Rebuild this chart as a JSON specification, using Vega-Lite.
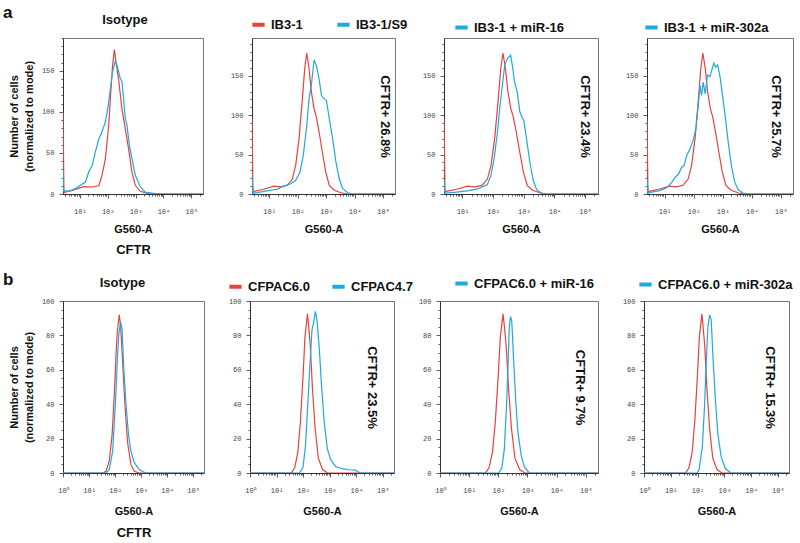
{
"$schema": "https://vega.github.io/schema/vega-lite/v6.json",
"padding": {"left": 3, "top": 3, "right": 5, "bottom": 5},
"background": "white",
"config": {
  "font": "Liberation Sans",
  "view": {"stroke": "#777", "strokeWidth": 1},
  "axis": {"grid": false, "labelFont": "Liberation Mono", "labelFontSize": 7, "labelColor": "#444", "domainColor": "#333", "tickColor": "#333", "tickWidth": 0.8, "titleFont": "Liberation Sans", "titleFontSize": 11, "titleFontWeight": "bold", "titleColor": "#111", "labelOverlap": false, "labelBound": false, "labelFlush": false},
  "title": {"font": "Liberation Sans", "fontSize": 13, "fontWeight": "bold", "color": "#111"},
  "legend": {"orient": "none", "direction": "horizontal", "title": null, "symbolType": "stroke", "symbolStrokeWidth": 4, "symbolSize": 150, "labelFont": "Liberation Sans", "labelFontSize": 13, "labelFontWeight": "bold", "labelColor": "#111", "columnPadding": 24, "padding": 0, "labelLimit": 300}
},
"datasets": {
"h": [
{"s":"Isotype IB3-1","x":2.5,"y":100},{"s":"Isotype IB3-1","x":2.7,"y":2},{"s":"Isotype IB3-1","x":5.3,"y":4.5},{"s":"Isotype IB3-1","x":14,"y":9},{"s":"Isotype IB3-1","x":28,"y":8.5},{"s":"Isotype IB3-1","x":48,"y":10},{"s":"Isotype IB3-1","x":63,"y":23},{"s":"Isotype IB3-1","x":83,"y":43},{"s":"Isotype IB3-1","x":109,"y":84},{"s":"Isotype IB3-1","x":125,"y":116},{"s":"Isotype IB3-1","x":150,"y":157},{"s":"Isotype IB3-1","x":174,"y":176},{"s":"Isotype IB3-1","x":198,"y":161},{"s":"Isotype IB3-1","x":246,"y":140},{"s":"Isotype IB3-1","x":324,"y":104},{"s":"Isotype IB3-1","x":427,"y":80},{"s":"Isotype IB3-1","x":562,"y":55},{"s":"Isotype IB3-1","x":741,"y":27},{"s":"Isotype IB3-1","x":977,"y":10.6},{"s":"Isotype IB3-1","x":1480,"y":3.3},{"s":"Isotype IB3-1","x":2880,"y":0.4},{"s":"Isotype IB3-1","x":5000,"y":0},{"s":"Isotype IB3-1","x":262144,"y":0},
{"s":"Isotype IB3-1/S9","x":2.5,"y":30},{"s":"Isotype IB3-1/S9","x":2.65,"y":4},{"s":"Isotype IB3-1/S9","x":4.1,"y":3.3},{"s":"Isotype IB3-1/S9","x":7,"y":6.5},{"s":"Isotype IB3-1/S9","x":10.5,"y":10.6},{"s":"Isotype IB3-1/S9","x":16,"y":14.6},{"s":"Isotype IB3-1/S9","x":21,"y":27},{"s":"Isotype IB3-1/S9","x":28,"y":35},{"s":"Isotype IB3-1/S9","x":36,"y":51},{"s":"Isotype IB3-1/S9","x":48,"y":67},{"s":"Isotype IB3-1/S9","x":63,"y":76},{"s":"Isotype IB3-1/S9","x":83,"y":88},{"s":"Isotype IB3-1/S9","x":103,"y":106},{"s":"Isotype IB3-1/S9","x":125,"y":128},{"s":"Isotype IB3-1/S9","x":150,"y":149},{"s":"Isotype IB3-1/S9","x":188,"y":162},{"s":"Isotype IB3-1/S9","x":215,"y":157},{"s":"Isotype IB3-1/S9","x":282,"y":141},{"s":"Isotype IB3-1/S9","x":324,"y":137},{"s":"Isotype IB3-1/S9","x":372,"y":116},{"s":"Isotype IB3-1/S9","x":427,"y":92},{"s":"Isotype IB3-1/S9","x":490,"y":84},{"s":"Isotype IB3-1/S9","x":603,"y":59},{"s":"Isotype IB3-1/S9","x":741,"y":43},{"s":"Isotype IB3-1/S9","x":977,"y":23},{"s":"Isotype IB3-1/S9","x":1480,"y":8.5},{"s":"Isotype IB3-1/S9","x":2190,"y":2.4},{"s":"Isotype IB3-1/S9","x":5000,"y":0.5},{"s":"Isotype IB3-1/S9","x":10000,"y":0},{"s":"Isotype IB3-1/S9","x":262144,"y":0},
{"s":"IB3-1","x":2.5,"y":95},{"s":"IB3-1","x":2.7,"y":2},{"s":"IB3-1","x":2.9,"y":3.4},{"s":"IB3-1","x":6.5,"y":6},{"s":"IB3-1","x":14.7,"y":10},{"s":"IB3-1","x":25,"y":9},{"s":"IB3-1","x":43,"y":11},{"s":"IB3-1","x":65,"y":19},{"s":"IB3-1","x":85,"y":36},{"s":"IB3-1","x":112,"y":70},{"s":"IB3-1","x":147,"y":121},{"s":"IB3-1","x":177,"y":159},{"s":"IB3-1","x":209,"y":179},{"s":"IB3-1","x":252,"y":159},{"s":"IB3-1","x":303,"y":130},{"s":"IB3-1","x":378,"y":108},{"s":"IB3-1","x":455,"y":98},{"s":"IB3-1","x":566,"y":79},{"s":"IB3-1","x":740,"y":53},{"s":"IB3-1","x":970,"y":28},{"s":"IB3-1","x":1290,"y":11},{"s":"IB3-1","x":1940,"y":4.7},{"s":"IB3-1","x":3330,"y":1.6},{"s":"IB3-1","x":5500,"y":0},{"s":"IB3-1","x":262144,"y":0},
{"s":"IB3-1/S9","x":2.5,"y":25},{"s":"IB3-1/S9","x":2.7,"y":1},{"s":"IB3-1/S9","x":8.5,"y":4},{"s":"IB3-1/S9","x":19,"y":6},{"s":"IB3-1/S9","x":33,"y":10},{"s":"IB3-1/S9","x":57,"y":13},{"s":"IB3-1/S9","x":85,"y":17},{"s":"IB3-1/S9","x":121,"y":28},{"s":"IB3-1/S9","x":158,"y":49},{"s":"IB3-1/S9","x":209,"y":87},{"s":"IB3-1/S9","x":252,"y":121},{"s":"IB3-1/S9","x":303,"y":138},{"s":"IB3-1/S9","x":378,"y":170},{"s":"IB3-1/S9","x":455,"y":163},{"s":"IB3-1/S9","x":566,"y":146},{"s":"IB3-1/S9","x":690,"y":125},{"s":"IB3-1/S9","x":850,"y":121},{"s":"IB3-1/S9","x":1020,"y":119},{"s":"IB3-1/S9","x":1290,"y":96},{"s":"IB3-1/S9","x":1700,"y":70},{"s":"IB3-1/S9","x":2200,"y":41},{"s":"IB3-1/S9","x":2900,"y":19},{"s":"IB3-1/S9","x":3800,"y":7},{"s":"IB3-1/S9","x":5700,"y":1.6},{"s":"IB3-1/S9","x":9000,"y":0},{"s":"IB3-1/S9","x":262144,"y":0},
{"s":"IB3-1 + miR-16","x":2.5,"y":18},{"s":"IB3-1 + miR-16","x":2.7,"y":1},{"s":"IB3-1 + miR-16","x":5.4,"y":2},{"s":"IB3-1 + miR-16","x":14.5,"y":4},{"s":"IB3-1 + miR-16","x":31,"y":6.4},{"s":"IB3-1 + miR-16","x":50,"y":10},{"s":"IB3-1 + miR-16","x":65,"y":12},{"s":"IB3-1 + miR-16","x":84,"y":23},{"s":"IB3-1 + miR-16","x":107,"y":44},{"s":"IB3-1 + miR-16","x":138,"y":78},{"s":"IB3-1 + miR-16","x":167,"y":112},{"s":"IB3-1 + miR-16","x":200,"y":138},{"s":"IB3-1 + miR-16","x":239,"y":164},{"s":"IB3-1 + miR-16","x":290,"y":172},{"s":"IB3-1 + miR-16","x":372,"y":176},{"s":"IB3-1 + miR-16","x":420,"y":164},{"s":"IB3-1 + miR-16","x":500,"y":142},{"s":"IB3-1 + miR-16","x":614,"y":129},{"s":"IB3-1 + miR-16","x":746,"y":104},{"s":"IB3-1 + miR-16","x":890,"y":97},{"s":"IB3-1 + miR-16","x":1000,"y":93},{"s":"IB3-1 + miR-16","x":1230,"y":70},{"s":"IB3-1 + miR-16","x":1580,"y":40},{"s":"IB3-1 + miR-16","x":2010,"y":18},{"s":"IB3-1 + miR-16","x":2620,"y":5.5},{"s":"IB3-1 + miR-16","x":3990,"y":0.4},{"s":"IB3-1 + miR-16","x":6000,"y":0},{"s":"IB3-1 + miR-16","x":262144,"y":0},
{"s":"IB3-1 + miR-302a","x":2.5,"y":20},{"s":"IB3-1 + miR-302a","x":2.7,"y":1},{"s":"IB3-1 + miR-302a","x":3.2,"y":2},{"s":"IB3-1 + miR-302a","x":6.3,"y":4},{"s":"IB3-1 + miR-302a","x":12,"y":8},{"s":"IB3-1 + miR-302a","x":18,"y":15},{"s":"IB3-1 + miR-302a","x":23,"y":21},{"s":"IB3-1 + miR-302a","x":30,"y":25},{"s":"IB3-1 + miR-302a","x":39,"y":34},{"s":"IB3-1 + miR-302a","x":47,"y":36},{"s":"IB3-1 + miR-302a","x":58,"y":49},{"s":"IB3-1 + miR-302a","x":75,"y":57},{"s":"IB3-1 + miR-302a","x":97,"y":68},{"s":"IB3-1 + miR-302a","x":120,"y":83},{"s":"IB3-1 + miR-302a","x":145,"y":113},{"s":"IB3-1 + miR-302a","x":166,"y":138},{"s":"IB3-1 + miR-302a","x":188,"y":125},{"s":"IB3-1 + miR-302a","x":214,"y":142},{"s":"IB3-1 + miR-302a","x":250,"y":127},{"s":"IB3-1 + miR-302a","x":300,"y":151},{"s":"IB3-1 + miR-302a","x":363,"y":149},{"s":"IB3-1 + miR-302a","x":435,"y":159},{"s":"IB3-1 + miR-302a","x":497,"y":166},{"s":"IB3-1 + miR-302a","x":580,"y":161},{"s":"IB3-1 + miR-302a","x":675,"y":164},{"s":"IB3-1 + miR-302a","x":826,"y":147},{"s":"IB3-1 + miR-302a","x":1020,"y":121},{"s":"IB3-1 + miR-302a","x":1250,"y":96},{"s":"IB3-1 + miR-302a","x":1550,"y":66},{"s":"IB3-1 + miR-302a","x":1990,"y":36},{"s":"IB3-1 + miR-302a","x":2590,"y":15},{"s":"IB3-1 + miR-302a","x":3370,"y":5.6},{"s":"IB3-1 + miR-302a","x":5000,"y":1.3},{"s":"IB3-1 + miR-302a","x":8000,"y":0},{"s":"IB3-1 + miR-302a","x":262144,"y":0},
{"s":"Isotype CFPAC6.0","x":1,"y":0},{"s":"Isotype CFPAC6.0","x":34,"y":0},{"s":"Isotype CFPAC6.0","x":45,"y":1},{"s":"Isotype CFPAC6.0","x":60,"y":7},{"s":"Isotype CFPAC6.0","x":77,"y":22},{"s":"Isotype CFPAC6.0","x":94,"y":46},{"s":"Isotype CFPAC6.0","x":109,"y":69},{"s":"Isotype CFPAC6.0","x":122,"y":82},{"s":"Isotype CFPAC6.0","x":145,"y":92},{"s":"Isotype CFPAC6.0","x":163,"y":86},{"s":"Isotype CFPAC6.0","x":195,"y":65},{"s":"Isotype CFPAC6.0","x":240,"y":40},{"s":"Isotype CFPAC6.0","x":302,"y":18},{"s":"Isotype CFPAC6.0","x":407,"y":5},{"s":"Isotype CFPAC6.0","x":550,"y":1},{"s":"Isotype CFPAC6.0","x":850,"y":0},{"s":"Isotype CFPAC6.0","x":262144,"y":0},
{"s":"Isotype CFPAC4.7","x":1,"y":0},{"s":"Isotype CFPAC4.7","x":45,"y":0},{"s":"Isotype CFPAC4.7","x":60,"y":2},{"s":"Isotype CFPAC4.7","x":81,"y":12.6},{"s":"Isotype CFPAC4.7","x":103,"y":40},{"s":"Isotype CFPAC4.7","x":122,"y":65},{"s":"Isotype CFPAC4.7","x":138,"y":80},{"s":"Isotype CFPAC4.7","x":163,"y":88},{"s":"Isotype CFPAC4.7","x":185,"y":84},{"s":"Isotype CFPAC4.7","x":220,"y":59},{"s":"Isotype CFPAC4.7","x":263,"y":40},{"s":"Isotype CFPAC4.7","x":330,"y":22},{"s":"Isotype CFPAC4.7","x":407,"y":12.6},{"s":"Isotype CFPAC4.7","x":550,"y":6},{"s":"Isotype CFPAC4.7","x":850,"y":2},{"s":"Isotype CFPAC4.7","x":1500,"y":0},{"s":"Isotype CFPAC4.7","x":262144,"y":0},
{"s":"CFPAC6.0","x":1,"y":0},{"s":"CFPAC6.0","x":36,"y":0},{"s":"CFPAC6.0","x":48,"y":3},{"s":"CFPAC6.0","x":63,"y":12},{"s":"CFPAC6.0","x":79,"y":30},{"s":"CFPAC6.0","x":98,"y":55},{"s":"CFPAC6.0","x":117,"y":79},{"s":"CFPAC6.0","x":145,"y":92.5},{"s":"CFPAC6.0","x":162,"y":85},{"s":"CFPAC6.0","x":186,"y":74},{"s":"CFPAC6.0","x":224,"y":49},{"s":"CFPAC6.0","x":282,"y":26},{"s":"CFPAC6.0","x":372,"y":8.6},{"s":"CFPAC6.0","x":537,"y":2},{"s":"CFPAC6.0","x":813,"y":0},{"s":"CFPAC6.0","x":262144,"y":0},
{"s":"CFPAC4.7","x":1,"y":0},{"s":"CFPAC4.7","x":72,"y":0},{"s":"CFPAC4.7","x":98,"y":3},{"s":"CFPAC4.7","x":123,"y":16},{"s":"CFPAC4.7","x":148,"y":39},{"s":"CFPAC4.7","x":182,"y":64},{"s":"CFPAC4.7","x":214,"y":83},{"s":"CFPAC4.7","x":245,"y":87},{"s":"CFPAC4.7","x":288,"y":94},{"s":"CFPAC4.7","x":331,"y":89},{"s":"CFPAC4.7","x":407,"y":72},{"s":"CFPAC4.7","x":490,"y":51},{"s":"CFPAC4.7","x":617,"y":30},{"s":"CFPAC4.7","x":813,"y":14},{"s":"CFPAC4.7","x":1096,"y":7.6},{"s":"CFPAC4.7","x":1660,"y":3.8},{"s":"CFPAC4.7","x":2950,"y":2.5},{"s":"CFPAC4.7","x":5250,"y":1.9},{"s":"CFPAC4.7","x":9120,"y":1.7},{"s":"CFPAC4.7","x":14100,"y":0},{"s":"CFPAC4.7","x":262144,"y":0},
{"s":"CFPAC6.0 + miR-16","x":1,"y":0},{"s":"CFPAC6.0 + miR-16","x":100,"y":0},{"s":"CFPAC6.0 + miR-16","x":131,"y":2.5},{"s":"CFPAC6.0 + miR-16","x":161,"y":14},{"s":"CFPAC6.0 + miR-16","x":192,"y":40},{"s":"CFPAC6.0 + miR-16","x":218,"y":65},{"s":"CFPAC6.0 + miR-16","x":236,"y":84},{"s":"CFPAC6.0 + miR-16","x":262,"y":91},{"s":"CFPAC6.0 + miR-16","x":290,"y":88},{"s":"CFPAC6.0 + miR-16","x":337,"y":65},{"s":"CFPAC6.0 + miR-16","x":395,"y":42},{"s":"CFPAC6.0 + miR-16","x":475,"y":23},{"s":"CFPAC6.0 + miR-16","x":614,"y":10},{"s":"CFPAC6.0 + miR-16","x":790,"y":3.4},{"s":"CFPAC6.0 + miR-16","x":1150,"y":0},{"s":"CFPAC6.0 + miR-16","x":262144,"y":0},
{"s":"CFPAC6.0 + miR-302a","x":1,"y":0},{"s":"CFPAC6.0 + miR-302a","x":95,"y":0},{"s":"CFPAC6.0 + miR-302a","x":113,"y":1.6},{"s":"CFPAC6.0 + miR-302a","x":151,"y":15},{"s":"CFPAC6.0 + miR-302a","x":183,"y":39},{"s":"CFPAC6.0 + miR-302a","x":212,"y":65},{"s":"CFPAC6.0 + miR-302a","x":245,"y":85},{"s":"CFPAC6.0 + miR-302a","x":283,"y":92},{"s":"CFPAC6.0 + miR-302a","x":325,"y":89},{"s":"CFPAC6.0 + miR-302a","x":373,"y":69},{"s":"CFPAC6.0 + miR-302a","x":455,"y":45},{"s":"CFPAC6.0 + miR-302a","x":573,"y":23},{"s":"CFPAC6.0 + miR-302a","x":761,"y":9.5},{"s":"CFPAC6.0 + miR-302a","x":1100,"y":2.6},{"s":"CFPAC6.0 + miR-302a","x":1780,"y":0},{"s":"CFPAC6.0 + miR-302a","x":262144,"y":0}
]
},
"vconcat": [
{
"title": {"text": "a", "anchor": "start", "frame": "group", "fontSize": 17, "dx": -60, "offset": -8},
"bounds": "flush",
"spacing": 49,
"resolve": {"scale": {"color": "independent", "x": "independent", "y": "independent"}, "legend": {"color": "independent"}},
"hconcat": [
{
"width": 140, "height": 156,
"title": {"text": "Isotype", "dx": -8, "offset": 7},
"data": {"name": "h"},
"layer": [
 {"transform": [{"filter": "datum.s == 'Isotype IB3-1'"}],
  "mark": {"type": "line", "color": "#e8413e", "strokeWidth": 1.2, "clip": true},
  "encoding": {
   "x": {"field": "x", "type": "quantitative", "scale": {"type": "log", "domain": [2.5, 262144], "nice": false},
     "axis": {"values": [3,4,5,6,7,8,9,10,20,30,40,50,60,70,80,90,100,200,300,400,500,600,700,800,900,1000,2000,3000,4000,5000,6000,7000,8000,9000,10000,20000,30000,40000,50000,60000,70000,80000,90000,100000,200000], "labelExpr": "datum.value == 1 ? '10⁰' : datum.value == 10 ? '10¹' : datum.value == 100 ? '10²' : datum.value == 1000 ? '10³' : datum.value == 10000 ? '10⁴' : datum.value == 100000 ? '10⁵' : ''", "tickSize": {"condition": {"test": "indexof([1,10,100,1000,10000,100000], datum.value) >= 0", "value": 4}, "value": 2}, "labelPadding": 9, "labelOverlap": false, "title": "G560-A", "titlePadding": 9}},
   "y": {"field": "y", "type": "quantitative", "scale": {"domain": [0, 190], "nice": false},
     "axis": {"values": [0,10,20,30,40,50,60,70,80,90,100,110,120,130,140,150,160,170,180,190], "labelExpr": "datum.value % 50 == 0 ? datum.label : ''", "tickSize": {"condition": {"test": "datum.value % 50 == 0", "value": 4}, "value": 2}, "labelPadding": 5, "labelOverlap": false, "title": ["Number of cells", "(normalized to mode)"], "titlePadding": 7, "titleLineHeight": 15}}
  }},
 {"transform": [{"filter": "datum.s == 'Isotype IB3-1/S9'"}],
  "mark": {"type": "line", "color": "#1fa9e1", "strokeWidth": 1.2, "clip": true},
  "encoding": {
   "x": {"field": "x", "type": "quantitative", "axis": {"orient": "bottom", "title": "CFTR", "domain": false, "ticks": false, "labels": false, "titleFontSize": 13, "titlePadding": 49}},
   "y": {"field": "y", "type": "quantitative", "axis": null}
  }}
],
"resolve": {"axis": {"x": "independent", "y": "independent"}}
},
{
"width": 143, "height": 156,
"data": {"name": "h"},
"layer": [
 {"transform": [{"filter": "datum.s == 'IB3-1'"}],
  "mark": {"type": "line", "strokeWidth": 1.2, "clip": true},
  "encoding": {
   "x": {"field": "x", "type": "quantitative", "scale": {"type": "log", "domain": [2.5, 262144], "nice": false},
     "axis": {"values": [3,4,5,6,7,8,9,10,20,30,40,50,60,70,80,90,100,200,300,400,500,600,700,800,900,1000,2000,3000,4000,5000,6000,7000,8000,9000,10000,20000,30000,40000,50000,60000,70000,80000,90000,100000,200000], "labelExpr": "datum.value == 1 ? '10⁰' : datum.value == 10 ? '10¹' : datum.value == 100 ? '10²' : datum.value == 1000 ? '10³' : datum.value == 10000 ? '10⁴' : datum.value == 100000 ? '10⁵' : ''", "tickSize": {"condition": {"test": "indexof([1,10,100,1000,10000,100000], datum.value) >= 0", "value": 4}, "value": 2}, "labelPadding": 9, "labelOverlap": false, "title": "G560-A", "titlePadding": 9}},
   "y": {"field": "y", "type": "quantitative", "scale": {"domain": [0, 198], "nice": false},
     "axis": {"values": [0,10,20,30,40,50,60,70,80,90,100,110,120,130,140,150,160,170,180,190], "labelExpr": "datum.value % 50 == 0 ? datum.label : ''", "tickSize": {"condition": {"test": "datum.value % 50 == 0", "value": 4}, "value": 2}, "labelPadding": 5, "labelOverlap": false, "title": null}},
   "color": {"field": "s", "type": "nominal", "scale": {"domain": ["IB3-1", "IB3-1/S9"], "range": ["#e8413e", "#1fa9e1"]}, "legend": {"legendX": -2, "legendY": -22, "columnPadding": 26}}
  }},
 {"transform": [{"filter": "datum.s == 'IB3-1/S9'"}],
  "mark": {"type": "line", "strokeWidth": 1.2, "clip": true},
  "encoding": {
   "x": {"field": "x", "type": "quantitative"},
   "y": {"field": "y", "type": "quantitative", "axis": {"orient": "right", "title": "CFTR+ 26.8%", "domain": false, "ticks": false, "labels": false, "titleFontSize": 13, "titlePadding": -18}},
   "color": {"field": "s", "type": "nominal"}
  }}
],
"resolve": {"axis": {"y": "independent"}}
},
{
"width": 154, "height": 156,
"data": {"name": "h"},
"layer": [
 {"transform": [{"filter": "datum.s == 'IB3-1'"}],
  "mark": {"type": "line", "color": "#e8413e", "strokeWidth": 1.2, "clip": true},
  "encoding": {
   "x": {"field": "x", "type": "quantitative", "scale": {"type": "log", "domain": [2.5, 262144], "nice": false},
     "axis": {"values": [3,4,5,6,7,8,9,10,20,30,40,50,60,70,80,90,100,200,300,400,500,600,700,800,900,1000,2000,3000,4000,5000,6000,7000,8000,9000,10000,20000,30000,40000,50000,60000,70000,80000,90000,100000,200000], "labelExpr": "datum.value == 1 ? '10⁰' : datum.value == 10 ? '10¹' : datum.value == 100 ? '10²' : datum.value == 1000 ? '10³' : datum.value == 10000 ? '10⁴' : datum.value == 100000 ? '10⁵' : ''", "tickSize": {"condition": {"test": "indexof([1,10,100,1000,10000,100000], datum.value) >= 0", "value": 4}, "value": 2}, "labelPadding": 9, "labelOverlap": false, "title": "G560-A", "titlePadding": 9}},
   "y": {"field": "y", "type": "quantitative", "scale": {"domain": [0, 198], "nice": false},
     "axis": {"values": [0,10,20,30,40,50,60,70,80,90,100,110,120,130,140,150,160,170,180,190], "labelExpr": "datum.value % 50 == 0 ? datum.label : ''", "tickSize": {"condition": {"test": "datum.value % 50 == 0", "value": 4}, "value": 2}, "labelPadding": 5, "labelOverlap": false, "title": null}}
  }},
 {"transform": [{"filter": "datum.s == 'IB3-1 + miR-16'"}],
  "mark": {"type": "line", "strokeWidth": 1.2, "clip": true},
  "encoding": {
   "x": {"field": "x", "type": "quantitative"},
   "y": {"field": "y", "type": "quantitative", "axis": {"orient": "right", "title": "CFTR+ 23.4%", "domain": false, "ticks": false, "labels": false, "titleFontSize": 13, "titlePadding": -21}},
   "color": {"field": "s", "type": "nominal", "scale": {"domain": ["IB3-1 + miR-16"], "range": ["#1fa9e1"]}, "legend": {"legendX": 9, "legendY": -19}}
  }}
],
"resolve": {"axis": {"y": "independent"}}
},
{
"width": 146, "height": 156,
"data": {"name": "h"},
"layer": [
 {"transform": [{"filter": "datum.s == 'IB3-1'"}],
  "mark": {"type": "line", "color": "#e8413e", "strokeWidth": 1.2, "clip": true},
  "encoding": {
   "x": {"field": "x", "type": "quantitative", "scale": {"type": "log", "domain": [2.5, 262144], "nice": false},
     "axis": {"values": [3,4,5,6,7,8,9,10,20,30,40,50,60,70,80,90,100,200,300,400,500,600,700,800,900,1000,2000,3000,4000,5000,6000,7000,8000,9000,10000,20000,30000,40000,50000,60000,70000,80000,90000,100000,200000], "labelExpr": "datum.value == 1 ? '10⁰' : datum.value == 10 ? '10¹' : datum.value == 100 ? '10²' : datum.value == 1000 ? '10³' : datum.value == 10000 ? '10⁴' : datum.value == 100000 ? '10⁵' : ''", "tickSize": {"condition": {"test": "indexof([1,10,100,1000,10000,100000], datum.value) >= 0", "value": 4}, "value": 2}, "labelPadding": 9, "labelOverlap": false, "title": "G560-A", "titlePadding": 9}},
   "y": {"field": "y", "type": "quantitative", "scale": {"domain": [0, 198], "nice": false},
     "axis": {"values": [0,10,20,30,40,50,60,70,80,90,100,110,120,130,140,150,160,170,180,190], "labelExpr": "datum.value % 50 == 0 ? datum.label : ''", "tickSize": {"condition": {"test": "datum.value % 50 == 0", "value": 4}, "value": 2}, "labelPadding": 5, "labelOverlap": false, "title": null}}
  }},
 {"transform": [{"filter": "datum.s == 'IB3-1 + miR-302a'"}],
  "mark": {"type": "line", "strokeWidth": 1.2, "clip": true},
  "encoding": {
   "x": {"field": "x", "type": "quantitative"},
   "y": {"field": "y", "type": "quantitative", "axis": {"orient": "right", "title": "CFTR+ 25.7%", "domain": false, "ticks": false, "labels": false, "titleFontSize": 13, "titlePadding": -25}},
   "color": {"field": "s", "type": "nominal", "scale": {"domain": ["IB3-1 + miR-302a"], "range": ["#1fa9e1"]}, "legend": {"legendX": -4, "legendY": -19}}
  }}
],
"resolve": {"axis": {"y": "independent"}}
}
]
},
{
"title": {"text": "b", "anchor": "start", "frame": "group", "fontSize": 17, "dx": -60, "offset": -14},
"bounds": "flush",
"spacing": 46,
"resolve": {"scale": {"color": "independent", "x": "independent", "y": "independent"}, "legend": {"color": "independent"}},
"hconcat": [
{
"width": 141, "height": 172,
"title": {"text": "Isotype", "dx": -11, "offset": 7},
"data": {"name": "h"},
"layer": [
 {"transform": [{"filter": "datum.s == 'Isotype CFPAC6.0'"}],
  "mark": {"type": "line", "color": "#e8413e", "strokeWidth": 1.2, "clip": true},
  "encoding": {
   "x": {"field": "x", "type": "quantitative", "scale": {"type": "log", "domain": [1, 262144], "nice": false},
     "axis": {"values": [1,2,3,4,5,6,7,8,9,10,20,30,40,50,60,70,80,90,100,200,300,400,500,600,700,800,900,1000,2000,3000,4000,5000,6000,7000,8000,9000,10000,20000,30000,40000,50000,60000,70000,80000,90000,100000,200000], "labelExpr": "datum.value == 1 ? '10⁰' : datum.value == 10 ? '10¹' : datum.value == 100 ? '10²' : datum.value == 1000 ? '10³' : datum.value == 10000 ? '10⁴' : datum.value == 100000 ? '10⁵' : ''", "tickSize": {"condition": {"test": "indexof([1,10,100,1000,10000,100000], datum.value) >= 0", "value": 4}, "value": 2}, "labelPadding": 9, "labelOverlap": false, "title": "G560-A", "titlePadding": 12}},
   "y": {"field": "y", "type": "quantitative", "scale": {"domain": [0, 100], "nice": false},
     "axis": {"values": [0,5,10,15,20,25,30,35,40,45,50,55,60,65,70,75,80,85,90,95,100], "labelExpr": "datum.value % 20 == 0 ? datum.label : ''", "tickSize": {"condition": {"test": "datum.value % 20 == 0", "value": 4}, "value": 2}, "labelPadding": 5, "labelOverlap": false, "title": ["Number of cells", "(normalized to mode)"], "titlePadding": 7, "titleLineHeight": 15}}
  }},
 {"transform": [{"filter": "datum.s == 'Isotype CFPAC4.7'"}],
  "mark": {"type": "line", "color": "#1fa9e1", "strokeWidth": 1.2, "clip": true},
  "encoding": {
   "x": {"field": "x", "type": "quantitative", "axis": {"orient": "bottom", "title": "CFTR", "domain": false, "ticks": false, "labels": false, "titleFontSize": 13, "titlePadding": 53}},
   "y": {"field": "y", "type": "quantitative", "axis": null}
  }}
],
"resolve": {"axis": {"x": "independent", "y": "independent"}}
},
{
"width": 144, "height": 172,
"data": {"name": "h"},
"layer": [
 {"transform": [{"filter": "datum.s == 'CFPAC6.0'"}],
  "mark": {"type": "line", "strokeWidth": 1.2, "clip": true},
  "encoding": {
   "x": {"field": "x", "type": "quantitative", "scale": {"type": "log", "domain": [1, 262144], "nice": false},
     "axis": {"values": [1,2,3,4,5,6,7,8,9,10,20,30,40,50,60,70,80,90,100,200,300,400,500,600,700,800,900,1000,2000,3000,4000,5000,6000,7000,8000,9000,10000,20000,30000,40000,50000,60000,70000,80000,90000,100000,200000], "labelExpr": "datum.value == 1 ? '10⁰' : datum.value == 10 ? '10¹' : datum.value == 100 ? '10²' : datum.value == 1000 ? '10³' : datum.value == 10000 ? '10⁴' : datum.value == 100000 ? '10⁵' : ''", "tickSize": {"condition": {"test": "indexof([1,10,100,1000,10000,100000], datum.value) >= 0", "value": 4}, "value": 2}, "labelPadding": 9, "labelOverlap": false, "title": "G560-A", "titlePadding": 12}},
   "y": {"field": "y", "type": "quantitative", "scale": {"domain": [0, 100], "nice": false},
     "axis": {"values": [0,5,10,15,20,25,30,35,40,45,50,55,60,65,70,75,80,85,90,95,100], "labelExpr": "datum.value % 20 == 0 ? datum.label : ''", "tickSize": {"condition": {"test": "datum.value % 20 == 0", "value": 4}, "value": 2}, "labelPadding": 5, "labelOverlap": false, "title": null}},
   "color": {"field": "s", "type": "nominal", "scale": {"domain": ["CFPAC6.0", "CFPAC4.7"], "range": ["#e8413e", "#1fa9e1"]}, "legend": {"legendX": -23, "legendY": -23, "columnPadding": 14}}
  }},
 {"transform": [{"filter": "datum.s == 'CFPAC4.7'"}],
  "mark": {"type": "line", "strokeWidth": 1.2, "clip": true},
  "encoding": {
   "x": {"field": "x", "type": "quantitative"},
   "y": {"field": "y", "type": "quantitative", "axis": {"orient": "right", "title": "CFTR+ 23.5%", "domain": false, "ticks": false, "labels": false, "titleFontSize": 13, "titlePadding": -30}},
   "color": {"field": "s", "type": "nominal"}
  }}
],
"resolve": {"axis": {"y": "independent"}}
},
{
"width": 158, "height": 172,
"data": {"name": "h"},
"layer": [
 {"transform": [{"filter": "datum.s == 'CFPAC6.0'"}],
  "mark": {"type": "line", "color": "#e8413e", "strokeWidth": 1.2, "clip": true},
  "encoding": {
   "x": {"field": "x", "type": "quantitative", "scale": {"type": "log", "domain": [1, 262144], "nice": false},
     "axis": {"values": [1,2,3,4,5,6,7,8,9,10,20,30,40,50,60,70,80,90,100,200,300,400,500,600,700,800,900,1000,2000,3000,4000,5000,6000,7000,8000,9000,10000,20000,30000,40000,50000,60000,70000,80000,90000,100000,200000], "labelExpr": "datum.value == 1 ? '10⁰' : datum.value == 10 ? '10¹' : datum.value == 100 ? '10²' : datum.value == 1000 ? '10³' : datum.value == 10000 ? '10⁴' : datum.value == 100000 ? '10⁵' : ''", "tickSize": {"condition": {"test": "indexof([1,10,100,1000,10000,100000], datum.value) >= 0", "value": 4}, "value": 2}, "labelPadding": 9, "labelOverlap": false, "title": "G560-A", "titlePadding": 12}},
   "y": {"field": "y", "type": "quantitative", "scale": {"domain": [0, 100], "nice": false},
     "axis": {"values": [0,5,10,15,20,25,30,35,40,45,50,55,60,65,70,75,80,85,90,95,100], "labelExpr": "datum.value % 20 == 0 ? datum.label : ''", "tickSize": {"condition": {"test": "datum.value % 20 == 0", "value": 4}, "value": 2}, "labelPadding": 5, "labelOverlap": false, "title": null}}
  }},
 {"transform": [{"filter": "datum.s == 'CFPAC6.0 + miR-16'"}],
  "mark": {"type": "line", "strokeWidth": 1.2, "clip": true},
  "encoding": {
   "x": {"field": "x", "type": "quantitative"},
   "y": {"field": "y", "type": "quantitative", "axis": {"orient": "right", "title": "CFTR+ 9.7%", "domain": false, "ticks": false, "labels": false, "titleFontSize": 13, "titlePadding": -26}},
   "color": {"field": "s", "type": "nominal", "scale": {"domain": ["CFPAC6.0 + miR-16"], "range": ["#1fa9e1"]}, "legend": {"legendX": 13, "legendY": -26}}
  }}
],
"resolve": {"axis": {"y": "independent"}}
},
{
"width": 145, "height": 172,
"data": {"name": "h"},
"layer": [
 {"transform": [{"filter": "datum.s == 'CFPAC6.0'"}],
  "mark": {"type": "line", "color": "#e8413e", "strokeWidth": 1.2, "clip": true},
  "encoding": {
   "x": {"field": "x", "type": "quantitative", "scale": {"type": "log", "domain": [1, 262144], "nice": false},
     "axis": {"values": [1,2,3,4,5,6,7,8,9,10,20,30,40,50,60,70,80,90,100,200,300,400,500,600,700,800,900,1000,2000,3000,4000,5000,6000,7000,8000,9000,10000,20000,30000,40000,50000,60000,70000,80000,90000,100000,200000], "labelExpr": "datum.value == 1 ? '10⁰' : datum.value == 10 ? '10¹' : datum.value == 100 ? '10²' : datum.value == 1000 ? '10³' : datum.value == 10000 ? '10⁴' : datum.value == 100000 ? '10⁵' : ''", "tickSize": {"condition": {"test": "indexof([1,10,100,1000,10000,100000], datum.value) >= 0", "value": 4}, "value": 2}, "labelPadding": 9, "labelOverlap": false, "title": "G560-A", "titlePadding": 12}},
   "y": {"field": "y", "type": "quantitative", "scale": {"domain": [0, 100], "nice": false},
     "axis": {"values": [0,5,10,15,20,25,30,35,40,45,50,55,60,65,70,75,80,85,90,95,100], "labelExpr": "datum.value % 20 == 0 ? datum.label : ''", "tickSize": {"condition": {"test": "datum.value % 20 == 0", "value": 4}, "value": 2}, "labelPadding": 5, "labelOverlap": false, "title": null}}
  }},
 {"transform": [{"filter": "datum.s == 'CFPAC6.0 + miR-302a'"}],
  "mark": {"type": "line", "strokeWidth": 1.2, "clip": true},
  "encoding": {
   "x": {"field": "x", "type": "quantitative"},
   "y": {"field": "y", "type": "quantitative", "axis": {"orient": "right", "title": "CFTR+ 15.3%", "domain": false, "ticks": false, "labels": false, "titleFontSize": 13, "titlePadding": -27}},
   "color": {"field": "s", "type": "nominal", "scale": {"domain": ["CFPAC6.0 + miR-302a"], "range": ["#1fa9e1"]}, "legend": {"legendX": -7, "legendY": -25}}
  }}
],
"resolve": {"axis": {"y": "independent"}}
}
]
}
],
"spacing": 13,
"resolve": {"scale": {"color": "independent", "x": "independent", "y": "independent"}, "legend": {"color": "independent"}}
}
